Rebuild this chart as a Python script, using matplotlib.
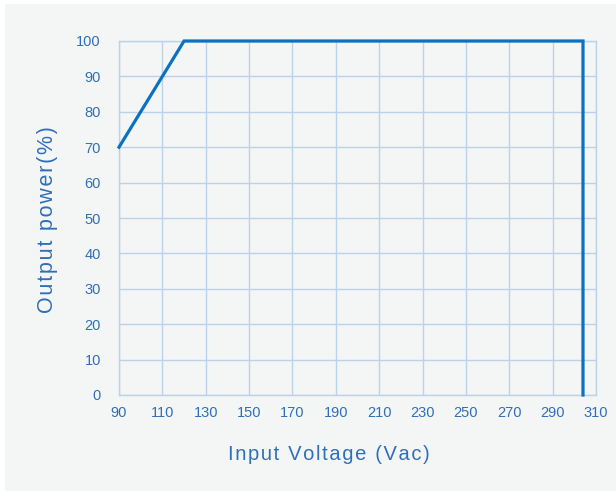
import matplotlib
matplotlib.use('Agg')

import matplotlib.pyplot as plt
from matplotlib.patches import Rectangle

# derating curve: input voltage (Vac) vs output power (%)
voltage = [90, 120, 304, 304]
power = [70, 100, 100, 0]

x_ticks = list(range(90, 311, 20))
y_ticks = list(range(0, 101, 10))

line_col = '#0a72c0'
text_col = '#2f6fb8'
grid_col = '#bcd2e8'
bg_col = '#f4f6f6'
font = ['Liberation Sans', 'DejaVu Sans']


def spaced(s, sep='\u200a'):
    return sep.join(s)


fig = plt.figure(figsize=(6.16, 4.91), dpi=100, facecolor='white')
fig.patches.append(Rectangle((5 / 616, 0), 1, 1 - 4 / 491, transform=fig.transFigure,
                             facecolor=bg_col, edgecolor='none', zorder=-10))

ax = fig.add_axes([119 / 616, 1 - 395 / 491, 477 / 616, 354 / 491])
ax.set_facecolor(bg_col)

ax.plot(voltage, power, color=line_col, lw=2.3, solid_joinstyle='miter', zorder=3, clip_on=False)

ax.set_xlim(90, 310)
ax.set_ylim(0, 100)
ax.set_xticks(x_ticks)
ax.set_yticks(y_ticks)
ax.grid(True, color=grid_col, lw=1.0)
for s in ax.spines.values():
    s.set_color(grid_col)
    s.set_linewidth(1.0)
ax.tick_params(length=0, labelsize=10.5, labelcolor=text_col)
ax.tick_params(axis='x', pad=8)
ax.tick_params(axis='y', pad=13)
for lb in ax.get_xticklabels() + ax.get_yticklabels():
    lb.set_family(font)

fig.text(329 / 616, 1 - 455 / 491, spaced('Input Voltage (Vac)'), fontsize=14.5,
         color=text_col, family=font, ha='center', va='center')
fig.text(48 / 616, 1 - 220 / 491, spaced('Output power(%)'), fontsize=15.5,
         color=text_col, family=font, ha='center', va='center', rotation=90)

fig.savefig('out.png', dpi=100, facecolor=fig.get_facecolor())
